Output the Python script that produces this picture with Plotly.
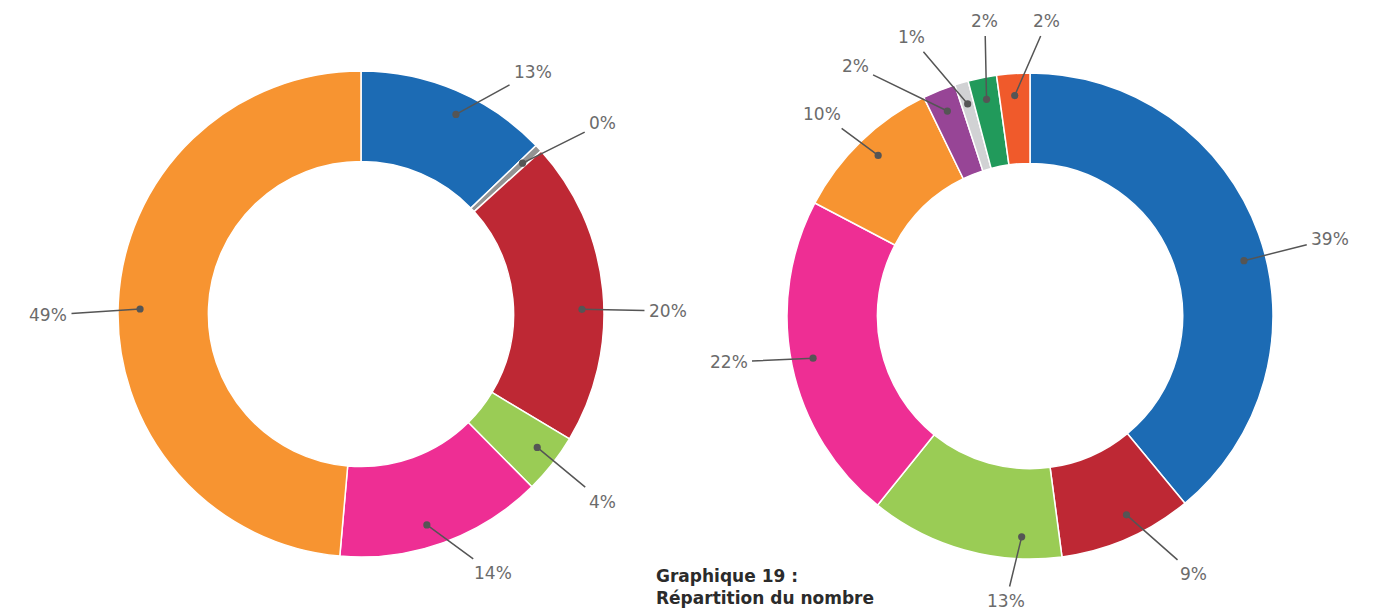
import math
import plotly.graph_objects as go

W, H = 1379, 610

# ---- data ----
left_values = [12.8, 0.49, 20.3, 4.0, 13.8, 48.61]
left_colors = ["#1c6bb4", "#939393", "#be2834", "#9acc55", "#ee2e94", "#f79431"]

right_values = [39.0, 8.9, 12.9, 21.9, 10.1, 2.2, 0.9, 1.9, 2.2]
right_colors = ["#1c6bb4", "#be2834", "#9acc55", "#ee2e94", "#f79431",
                "#974596", "#d1d2d4", "#219a5b", "#f05a2b"]

title_lines = ["Graphique 19 :", "Répartition du nombre"]

# ---- layout (pixels) ----
R_OUT = 243
HOLE = 0.628
R_DOT = 221
left_center = (361, 314)
right_center = (1030, 316)
# dot angle tweak (deg), label angle (deg), label radius (px)
left_dot_adj = [2.4, 0, 4.4, -1, 2.5, -1.2]
left_lab_ang = [35.4, 51.7, 89.4, 127.8, 153.0, 269.8]
left_lab_r = [297, 308, 307, 306, 291, 313]
right_dot_adj = [5.3, -2.3, -13.5, 0.7, 0.7, 0, 0, 0, 0]
right_lab_ang = [75.6, 147.6, 184.8, 261.3, 314.2, 325.0, 336.9, 351.3, 3.3]
right_lab_r = [310, 306, 286, 305, 290, 305, 303, 298, 295]

LABEL_FONT = dict(family="DejaVu Sans, sans-serif", size=17, color="#6b6b6b")


def domain(center):
    cx, cy = center
    return dict(x=[(cx - R_OUT) / W, (cx + R_OUT) / W],
                y=[1 - (cy + R_OUT) / H, 1 - (cy - R_OUT) / H])


fig = go.Figure()
for vals, cols, cen in [(left_values, left_colors, left_center),
                        (right_values, right_colors, right_center)]:
    fig.add_trace(go.Pie(
        values=vals, marker=dict(colors=cols, line=dict(color="white", width=1.5)),
        hole=HOLE, sort=False, direction="clockwise", rotation=0,
        textinfo="none", hoverinfo="percent", showlegend=False,
        domain=domain(cen),
    ))

annotations = []
for vals, cen, adj, lang, lr in [
    (left_values, left_center, left_dot_adj, left_lab_ang, left_lab_r),
    (right_values, right_center, right_dot_adj, right_lab_ang, right_lab_r),
]:
    total = sum(vals)
    cum = 0.0
    cx, cy = cen
    for i, v in enumerate(vals):
        mid = (cum + v / 2) / total * 360
        cum += v
        a = math.radians(mid + adj[i])
        px = cx + R_DOT * math.sin(a)
        py = cy - R_DOT * math.cos(a)
        b = math.radians(lang[i])
        tx = cx + lr[i] * math.sin(b)
        ty = cy - lr[i] * math.cos(b)
        annotations.append(dict(
            x=px / W, y=1 - py / H, xref="paper", yref="paper",
            ax=tx - px, ay=ty - py,
            text=f"{round(v / total * 100)}%",
            showarrow=True, arrowhead=6, arrowsize=1.2, arrowwidth=1.5,
            arrowcolor="#555555", standoff=0, borderpad=4,
            font=LABEL_FONT,
        ))

annotations.append(dict(
    x=654 / W, y=1 - 564 / H, xref="paper", yref="paper",
    xanchor="left", yanchor="top", align="left", showarrow=False,
    text="<b>" + "<br>".join(title_lines) + "</b>",
    font=dict(family="DejaVu Sans, sans-serif", size=17, color="#2b2b2b"),
))

fig.update_layout(
    width=W, height=H, margin=dict(l=0, r=0, t=0, b=0),
    paper_bgcolor="white", plot_bgcolor="white",
    annotations=annotations,
)

fig.write_html("out.html", config={"displayModeBar": False},
               post_script="document.body.style.margin='0';"
                           "document.body.style.overflow='hidden';")
